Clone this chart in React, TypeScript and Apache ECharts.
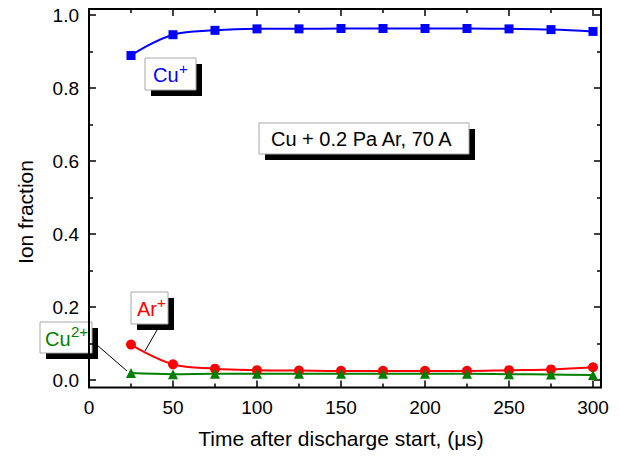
import React, { useEffect, useRef } from "react";
import * as echarts from "echarts";

const timeValues = [25, 50, 75, 100, 125, 150, 175, 200, 225, 250, 275, 300];
const cuPlus = [0.889, 0.946, 0.958, 0.962, 0.962, 0.963, 0.963, 0.963, 0.963, 0.962, 0.96, 0.955];
const arPlus = [0.097, 0.043, 0.031, 0.027, 0.026, 0.025, 0.025, 0.025, 0.025, 0.027, 0.029, 0.035];
const cu2Plus = [0.019, 0.016, 0.017, 0.017, 0.017, 0.017, 0.017, 0.017, 0.017, 0.016, 0.015, 0.014];

const xTitle = "Time after discharge start, (\u03bcs)";
const yTitle = "Ion fraction";
const conditionText = "Cu + 0.2 Pa Ar, 70 A";

const FONT = "'Liberation Sans', Arial, sans-serif";

function labelBox(
  x: number,
  y: number,
  w: number,
  h: number,
  parts: { text: string; dx: number; dy: number; size: number; color: string }[]
) {
  return {
    type: "group",
    x,
    y,
    children: [
      { type: "rect", shape: { x: 6, y: 6, width: w, height: h }, style: { fill: "#000" } },
      { type: "rect", shape: { x: 0, y: 0, width: w, height: h }, style: { fill: "#fff", stroke: "#a8a8a8", lineWidth: 1 } },
      ...parts.map((p) => ({
        type: "text",
        x: p.dx,
        y: h / 2 + p.dy,
        style: {
          text: p.text,
          fill: p.color,
          fontSize: p.size,
          fontFamily: FONT,
          textAlign: "left",
          textVerticalAlign: "middle",
        },
      })),
    ],
  };
}

export default function App() {
  const ref = useRef<HTMLDivElement>(null);
  useEffect(() => {
    if (!ref.current) return;
    const chart = echarts.init(ref.current, null, { renderer: "svg" });
    const mkData = (vals: number[]) => timeValues.map((t, i) => [t, vals[i]]);
    const tickStyle = { color: "#000", width: 1.5 };
    const commonX = {
      type: "value",
      min: 0,
      max: 300,
      interval: 50,
      splitLine: { show: false },
      axisLine: { show: false, onZero: false },
      axisTick: { show: true, inside: true, length: 7, lineStyle: tickStyle },
      minorTick: { show: true, splitNumber: 2, length: 4, lineStyle: tickStyle },
    };
    const commonY = {
      type: "value",
      min: 0,
      max: 1,
      interval: 0.2,
      splitLine: { show: false },
      axisLine: { show: false, onZero: false },
      axisTick: { show: true, inside: true, length: 7, lineStyle: tickStyle },
      minorTick: { show: true, splitNumber: 2, length: 4, lineStyle: tickStyle },
    };
    chart.setOption({
      animation: false,
      backgroundColor: "#fff",
      grid: { left: 89, top: 15, width: 504, height: 365 },
      xAxis: [
        {
          ...commonX,
          position: "bottom",
          offset: 7.5,
          axisLabel: { show: true, color: "#000", fontSize: 19, fontFamily: FONT, margin: 10 },
          name: xTitle,
          nameLocation: "middle",
          nameGap: 40,
          nameTextStyle: { color: "#000", fontSize: 21, fontFamily: FONT },
        },
        { ...commonX, position: "top", offset: 6, axisLabel: { show: false } },
      ],
      yAxis: [
        {
          ...commonY,
          position: "left",
          axisLabel: {
            show: true,
            color: "#000",
            fontSize: 19,
            fontFamily: FONT,
            margin: 10,
            formatter: (v: number) => v.toFixed(1),
          },
        },
        { ...commonY, position: "right", offset: 8, axisLabel: { show: false } },
      ],
      series: [
        {
          type: "line",
          name: "Cu+",
          data: mkData(cuPlus),
          smooth: 0.4,
          symbol: "rect",
          symbolSize: 9,
          clip: false,
          lineStyle: { color: "#0000ff", width: 2 },
          itemStyle: { color: "#0000ff" },
        },
        {
          type: "line",
          name: "Ar+",
          data: mkData(arPlus),
          smooth: 0.4,
          symbol: "circle",
          symbolSize: 10,
          clip: false,
          lineStyle: { color: "#ff0000", width: 2 },
          itemStyle: { color: "#ff0000" },
        },
        {
          type: "line",
          name: "Cu2+",
          data: mkData(cu2Plus),
          smooth: 0.4,
          symbol: "triangle",
          symbolSize: 10,
          clip: false,
          lineStyle: { color: "#008000", width: 2 },
          itemStyle: { color: "#008000" },
        },
      ],
      graphic: [
        {
          type: "rect",
          shape: { x: 89, y: 9, width: 512, height: 378.5 },
          style: { fill: "none", stroke: "#000", lineWidth: 2 },
          z: 10,
        },
        {
          type: "text",
          x: 25,
          y: 212,
          rotation: Math.PI / 2,
          style: {
            text: yTitle,
            fill: "#000",
            fontSize: 21,
            fontFamily: FONT,
            textAlign: "center",
            textVerticalAlign: "middle",
          },
        },
        { type: "line", shape: { x1: 157, y1: 330, x2: 145, y2: 351 }, style: { stroke: "#000", lineWidth: 1 } },
        { type: "line", shape: { x1: 97, y1: 345, x2: 127, y2: 371 }, style: { stroke: "#000", lineWidth: 1 } },
        labelBox(145, 58, 51, 32, [
          { text: "Cu", dx: 8, dy: 1, size: 20, color: "#0000ff" },
          { text: "+", dx: 34, dy: -6, size: 15, color: "#0000ff" },
        ]),
        labelBox(259, 123, 210, 31, [{ text: conditionText, dx: 12, dy: 0, size: 20, color: "#000" }]),
        labelBox(131, 292, 37, 32, [
          { text: "Ar", dx: 6, dy: 1, size: 20, color: "#ff0000" },
          { text: "+", dx: 26, dy: -6, size: 15, color: "#ff0000" },
        ]),
        labelBox(40, 322, 52, 31, [
          { text: "Cu", dx: 5, dy: 1, size: 20, color: "#008000" },
          { text: "2+", dx: 31, dy: -6, size: 15, color: "#008000" },
        ]),
      ],
    });
    return () => chart.dispose();
  }, []);
  return (
    <div
      ref={ref}
      style={{ position: "absolute", left: 0, top: 0, width: 621, height: 456, background: "#fff" }}
    />
  );
}
